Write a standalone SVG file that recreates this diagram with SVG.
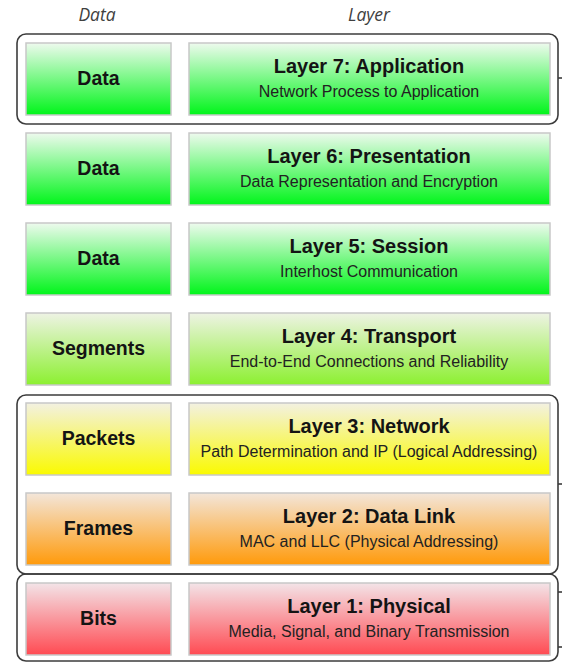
<svg xmlns="http://www.w3.org/2000/svg" width="562" height="662" viewBox="0 0 562 662">
<style>
.hdr{font-family:"Open Sans","Liberation Sans",sans-serif;font-style:italic;font-size:17.5px;fill:#404040;text-anchor:middle}
.box{stroke:#c8c8c8;stroke-width:1.5}
.lbl{font-family:"Liberation Sans",Arial,sans-serif;font-weight:bold;font-size:19.5px;fill:#141414;text-anchor:middle}
.ttl{font-family:"Liberation Sans",Arial,sans-serif;font-weight:bold;font-size:20px;fill:#141414;text-anchor:middle}
.sub{font-family:"Liberation Sans",Arial,sans-serif;font-size:16px;fill:#222;text-anchor:middle}
.brk{fill:none;stroke:#3c3c3c;stroke-width:1.6}
</style>
<defs>
<linearGradient id="gGreen" x1="0" y1="0" x2="0" y2="1"><stop offset="0" stop-color="#eefaee"/><stop offset="1" stop-color="#00f51a"/></linearGradient>
<linearGradient id="gLime" x1="0" y1="0" x2="0" y2="1"><stop offset="0" stop-color="#eef3e4"/><stop offset="1" stop-color="#8cf030"/></linearGradient>
<linearGradient id="gYellow" x1="0" y1="0" x2="0" y2="1"><stop offset="0" stop-color="#f3f1e2"/><stop offset="1" stop-color="#fafa00"/></linearGradient>
<linearGradient id="gOrange" x1="0" y1="0" x2="0" y2="1"><stop offset="0" stop-color="#f3e6da"/><stop offset="1" stop-color="#ff9a0a"/></linearGradient>
<linearGradient id="gRed" x1="0" y1="0" x2="0" y2="1"><stop offset="0" stop-color="#f3e4e8"/><stop offset="1" stop-color="#ff4a52"/></linearGradient>
</defs>
<rect width="562" height="662" fill="#ffffff"/>
<text class="hdr" x="97" y="21">Data</text>
<text class="hdr" x="369" y="21">Layer</text>

<g id="brackets">
<rect class="brk" x="17" y="34" width="541" height="90" rx="9"/>
<line class="brk" x1="558" y1="78" x2="562" y2="78"/>
<rect class="brk" x="17" y="395" width="541" height="179" rx="9"/>
<rect class="brk" x="17" y="574" width="541" height="87" rx="9"/>
<line class="brk" x1="558" y1="484" x2="562" y2="484"/>
<line class="brk" x1="558" y1="592" x2="562" y2="592"/>
<line class="brk" x1="558" y1="647" x2="562" y2="647"/>
</g>

<g id="row7">
<rect class="box" x="26" y="43" width="145" height="72" fill="url(#gGreen)"/>
<text class="lbl" x="98.5" y="85">Data</text>
<rect class="box" x="189" y="43" width="361" height="72" fill="url(#gGreen)"/>
<text class="ttl" x="369" y="73">Layer 7: Application</text>
<text class="sub" x="369" y="97">Network Process to Application</text>
</g>
<g id="row6">
<rect class="box" x="26" y="133" width="145" height="72" fill="url(#gGreen)"/>
<text class="lbl" x="98.5" y="175">Data</text>
<rect class="box" x="189" y="133" width="361" height="72" fill="url(#gGreen)"/>
<text class="ttl" x="369" y="163">Layer 6: Presentation</text>
<text class="sub" x="369" y="187">Data Representation and Encryption</text>
</g>
<g id="row5">
<rect class="box" x="26" y="223" width="145" height="72" fill="url(#gGreen)"/>
<text class="lbl" x="98.5" y="265">Data</text>
<rect class="box" x="189" y="223" width="361" height="72" fill="url(#gGreen)"/>
<text class="ttl" x="369" y="253">Layer 5: Session</text>
<text class="sub" x="369" y="277">Interhost Communication</text>
</g>
<g id="row4">
<rect class="box" x="26" y="313" width="145" height="72" fill="url(#gLime)"/>
<text class="lbl" x="98.5" y="355">Segments</text>
<rect class="box" x="189" y="313" width="361" height="72" fill="url(#gLime)"/>
<text class="ttl" x="369" y="343">Layer 4: Transport</text>
<text class="sub" x="369" y="367">End-to-End Connections and Reliability</text>
</g>
<g id="row3">
<rect class="box" x="26" y="403" width="145" height="72" fill="url(#gYellow)"/>
<text class="lbl" x="98.5" y="445">Packets</text>
<rect class="box" x="189" y="403" width="361" height="72" fill="url(#gYellow)"/>
<text class="ttl" x="369" y="433">Layer 3: Network</text>
<text class="sub" x="369" y="457">Path Determination and IP (Logical Addressing)</text>
</g>
<g id="row2">
<rect class="box" x="26" y="493" width="145" height="72" fill="url(#gOrange)"/>
<text class="lbl" x="98.5" y="535">Frames</text>
<rect class="box" x="189" y="493" width="361" height="72" fill="url(#gOrange)"/>
<text class="ttl" x="369" y="523">Layer 2: Data Link</text>
<text class="sub" x="369" y="547">MAC and LLC (Physical Addressing)</text>
</g>
<g id="row1">
<rect class="box" x="26" y="583" width="145" height="72" fill="url(#gRed)"/>
<text class="lbl" x="98.5" y="625">Bits</text>
<rect class="box" x="189" y="583" width="361" height="72" fill="url(#gRed)"/>
<text class="ttl" x="369" y="613">Layer 1: Physical</text>
<text class="sub" x="369" y="637">Media, Signal, and Binary Transmission</text>
</g>
</svg>
